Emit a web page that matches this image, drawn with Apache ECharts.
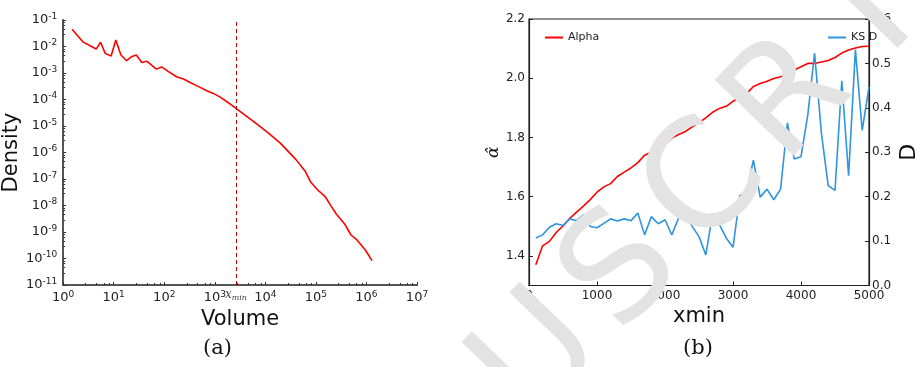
<!DOCTYPE html>
<html>
<head>
<meta charset="utf-8">
<script src="https://cdn.jsdelivr.net/npm/echarts@6/dist/echarts.min.js"></script>
<style>
  html, body { margin: 0; padding: 0; background: #fff; }
  #chart { width: 921px; height: 367px; }
</style>
</head>
<body>
<div id="chart"></div>
<script>
// (a) density vs volume, log-log
const volume = [1.5, 2.45, 4.5, 5.5, 6.8, 8.9, 11, 13.9, 18, 23, 28, 36, 45, 70, 89, 121, 175, 240, 318, 490, 710, 935,
  1300, 2050, 5900, 11700, 20000, 40000, 62000, 78000, 105000, 154000, 200000, 253000, 370000, 495000, 650000, 950000, 1290000]
const density = [0.045, 0.015, 0.008, 0.0145, 0.0055, 0.0044, 0.0177, 0.0048, 0.0029, 0.0042, 0.0048, 0.0025, 0.0028, 0.0014,
  0.0017, 0.00112, 0.00072, 0.00059, 0.00045, 0.0003, 0.00021, 0.00017, 0.00012, 0.000066, 1.45e-5, 5.3e-6, 2.2e-6, 5.5e-7,
  1.9e-7, 7.9e-8, 4.1e-8, 2.1e-8, 9.5e-9, 4.8e-9, 2e-9, 7.7e-10, 5e-10, 2.1e-10, 8.3e-11]
const xmin = 2620

// (b) alpha and KS D vs xmin
const xminValues = []
for (let v = 100; v <= 5000; v += 100) xminValues.push(v)
const alpha = [1.37, 1.434, 1.449, 1.479, 1.501, 1.527, 1.548, 1.568, 1.59, 1.615, 1.633, 1.644, 1.668, 1.683, 1.697, 1.715,
  1.74, 1.75, 1.762, 1.775, 1.798, 1.81, 1.82, 1.836, 1.85, 1.866, 1.885, 1.898, 1.905, 1.922, 1.935, 1.948, 1.972, 1.982,
  1.99, 1.999, 2.005, 2.012, 2.028, 2.039, 2.05, 2.05, 2.055, 2.06, 2.07, 2.085, 2.095, 2.102, 2.107, 2.108]
const ksD = [0.107, 0.114, 0.131, 0.139, 0.135, 0.15, 0.146, 0.159, 0.133, 0.13, 0.14, 0.15, 0.145, 0.15, 0.146, 0.163,
  0.114, 0.155, 0.139, 0.148, 0.114, 0.152, 0.16, 0.133, 0.11, 0.069, 0.161, 0.137, 0.107, 0.086, 0.202, 0.212, 0.282,
  0.199, 0.217, 0.193, 0.217, 0.366, 0.285, 0.29, 0.384, 0.523, 0.343, 0.225, 0.214, 0.461, 0.247, 0.531, 0.349, 0.447]
const alphaTicks = [1.4, 1.6, 1.8, 2.0, 2.2]

// watermark letters, laid out along a diagonal
const watermark = "USCRIPT".split("")

const chart = echarts.init(document.getElementById("chart"), null, { renderer: "canvas" })

const sans = "DejaVu Sans"
const powLabel = (value) => {
  const e = Math.round(Math.log10(value))
  return `10{sup|${e}}`
}
const powRich = {
  sup: { fontSize: 9, verticalAlign: "top", padding: [0, 0, 7, 0], fontFamily: sans, color: "#222" }
}
const logAxisCommon = {
  type: "log",
  logBase: 10,
  interval: 1,
  axisLine: { lineStyle: { color: "#555", width: 2 } },
  axisTick: { inside: true, length: 3, lineStyle: { color: "#333" } },
  minorTick: { show: true, splitNumber: 5, length: 2, lineStyle: { color: "#333" } },
  splitLine: { show: false },
  axisLabel: { formatter: powLabel, rich: powRich, fontFamily: sans, fontSize: 13, color: "#222" }
}
const boxAxis = {
  axisLine: { show: true, lineStyle: { color: "#222", width: 1.2 } },
  axisTick: { inside: true, length: 4, lineStyle: { color: "#222" } },
  splitLine: { show: false }
}

// C of the watermark sits near (708,188); letters stepped along 46 degrees
const wmAngle = 46 * Math.PI / 180
const wmStep = 120
const wmGraphics = watermark.map((ch, i) => ({
  type: "text",
  x: 708 + (i - 2) * wmStep * Math.cos(wmAngle),
  y: 188 - (i - 2) * wmStep * Math.sin(wmAngle),
  rotation: wmAngle,
  z: 100,
  style: {
    text: ch, font: '150px "DejaVu Sans"', fill: "#e3e3e3",
    textAlign: "center", textVerticalAlign: "middle"
  }
}))

chart.setOption({
  animation: false,
  textStyle: { fontFamily: sans },
  grid: [
    { left: 62, top: 20, width: 355, height: 265 },
    { left: 529, top: 19, width: 355, height: 266.5, show: true, borderColor: "#222", borderWidth: 1.2 }
  ],
  legend: [
    {
      data: ["Alpha"], left: 540, top: 27, icon: "rect", itemWidth: 18, itemHeight: 2,
      textStyle: { fontSize: 11, color: "#222" }
    },
    {
      data: ["KS D"], left: 823, top: 27, icon: "rect", itemWidth: 18, itemHeight: 2,
      textStyle: { fontSize: 11, color: "#222" }
    }
  ],
  xAxis: [
    {
      ...logAxisCommon, gridIndex: 0, min: 1, max: 1e7,
      name: "Volume", nameLocation: "middle", nameGap: 19,
      nameTextStyle: { fontSize: 21, color: "#111", fontFamily: sans },
      axisLabel: { ...logAxisCommon.axisLabel, margin: 5 }
    },
    {
      ...boxAxis, type: "value", gridIndex: 1, min: 0, max: 5000, interval: 1000,
      name: "xmin", nameLocation: "middle", nameGap: 19,
      nameTextStyle: { fontSize: 21, color: "#111", fontFamily: sans },
      axisLabel: { fontSize: 12, color: "#222", margin: 4, formatter: (v) => String(v) }
    }
  ],
  yAxis: [
    {
      ...logAxisCommon, gridIndex: 0, min: 1e-11, max: 0.1,
      name: "Density", nameLocation: "middle", nameGap: 30,
      nameTextStyle: { fontSize: 21, color: "#111", fontFamily: sans },
      axisLabel: { ...logAxisCommon.axisLabel, margin: 6 }
    },
    {
      ...boxAxis, type: "value", gridIndex: 1, min: 1.3, max: 2.2, position: "left",
      name: "\u03b1\u0302", nameLocation: "middle", nameGap: 12,
      nameTextStyle: { fontSize: 17, color: "#111", fontFamily: "DejaVu Serif", fontStyle: "italic" },
      axisTick: { ...boxAxis.axisTick, customValues: alphaTicks },
      axisLabel: {
        customValues: alphaTicks, fontSize: 12, color: "#222", margin: 4,
        formatter: (v) => v.toFixed(1)
      }
    },
    {
      ...boxAxis, type: "value", gridIndex: 1, min: 0, max: 0.6, interval: 0.1, position: "right",
      name: "D", nameLocation: "middle", nameGap: 29, nameRotate: 90,
      nameTextStyle: { fontSize: 22, color: "#111", fontFamily: sans },
      axisLabel: { fontSize: 12, color: "#222", margin: 3, formatter: (v) => v.toFixed(1) }
    }
  ],
  series: [
    {
      name: "Density",
      type: "line",
      xAxisIndex: 0,
      yAxisIndex: 0,
      data: volume.map((v, i) => [v, density[i]]),
      showSymbol: false,
      lineStyle: { color: "#ff0000", width: 1.6 },
      markLine: {
        silent: true,
        symbol: ["none", "none"],
        lineStyle: { color: "#c00000", type: [4, 3], width: 1 },
        label: {
          show: true, position: "start", distance: 3,
          formatter: "{x|x}{s|min}",
          rich: {
            x: { fontFamily: "DejaVu Serif", fontStyle: "italic", fontSize: 12, color: "#444" },
            s: { fontFamily: "DejaVu Serif", fontStyle: "italic", fontSize: 8, color: "#444", padding: [6, 0, 0, 0] }
          }
        },
        data: [{ xAxis: xmin }]
      }
    },
    {
      name: "Alpha",
      type: "line",
      xAxisIndex: 1,
      yAxisIndex: 1,
      data: xminValues.map((v, i) => [v, alpha[i]]),
      showSymbol: false,
      color: "#ff0000",
      lineStyle: { color: "#ff0000", width: 1.6 }
    },
    {
      name: "KS D",
      type: "line",
      xAxisIndex: 1,
      yAxisIndex: 2,
      data: xminValues.map((v, i) => [v, ksD[i]]),
      showSymbol: false,
      color: "#2f95dc",
      lineStyle: { color: "#2f95dc", width: 1.6 }
    }
  ],
  graphic: [
    {
      type: "text", left: 203, top: 338, z: 10,
      style: { text: "(a)", font: '21px "DejaVu Serif"', fill: "#111" }
    },
    {
      type: "text", left: 683, top: 338, z: 10,
      style: { text: "(b)", font: '21px "DejaVu Serif"', fill: "#111" }
    },
    ...wmGraphics
  ]
})
</script>
</body>
</html>
